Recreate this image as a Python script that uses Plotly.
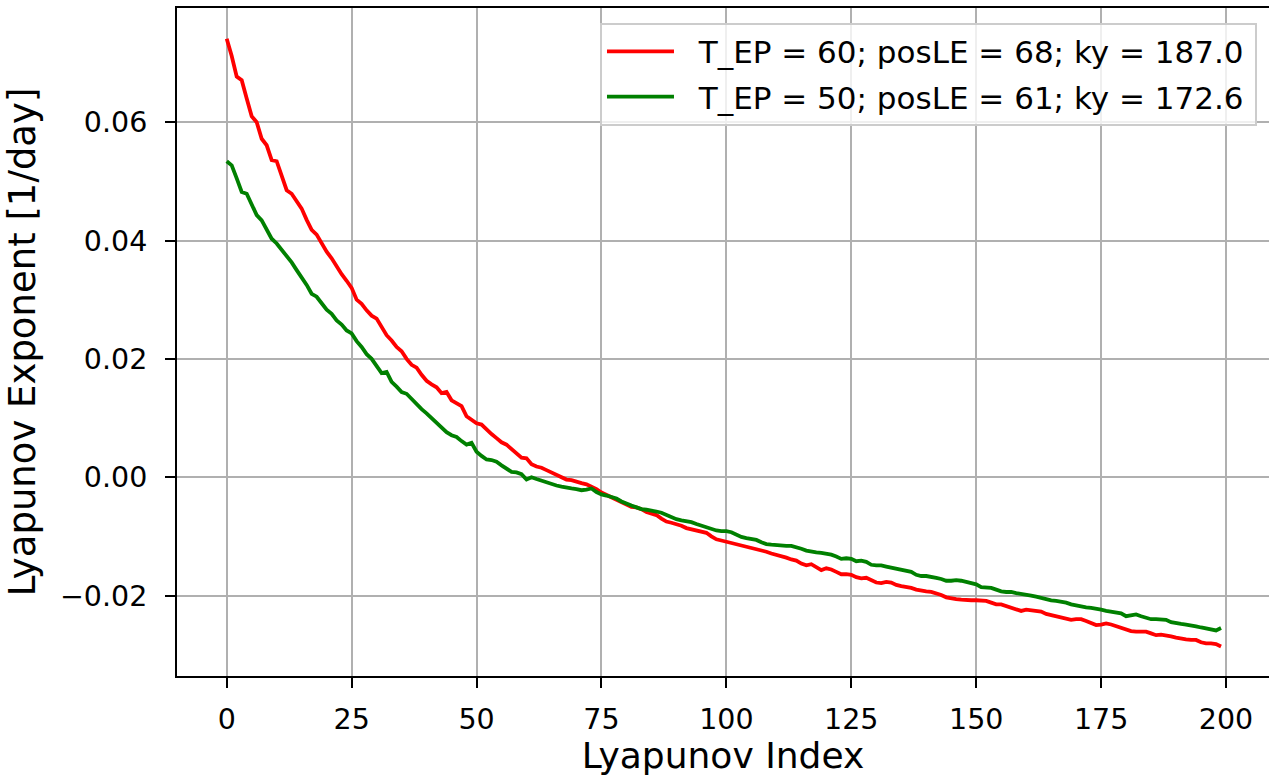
import plotly.graph_objects as go

lyap_index = list(range(200))

le_tep60 = [
    0.0741, 0.0712, 0.0677, 0.0671, 0.0640, 0.0610, 0.0600, 0.0572, 0.0561, 0.0536,
    0.0534, 0.0510, 0.0485, 0.0479, 0.0467, 0.0454, 0.0435, 0.0418, 0.0410, 0.0395,
    0.0381, 0.0370, 0.0356, 0.0343, 0.0332, 0.0320, 0.0300, 0.0293, 0.0282, 0.0273,
    0.0268, 0.0254, 0.0240, 0.0231, 0.0220, 0.0213, 0.0200, 0.0190, 0.0185, 0.0173,
    0.0163, 0.0157, 0.0152, 0.0142, 0.0144, 0.0130, 0.0125, 0.0120, 0.0103, 0.0097,
    0.0091, 0.0089, 0.0080, 0.0073, 0.0066, 0.0059, 0.0055, 0.0048, 0.0040, 0.0033,
    0.0032, 0.0022, 0.0018, 0.0016, 0.0012, 0.0008, 0.0003, -0.0001, -0.0004, -0.0005,
    -0.0008, -0.0010, -0.0012, -0.0016, -0.0020, -0.0026, -0.0030, -0.0034, -0.0038, -0.0043,
    -0.0047, -0.0050, -0.0051, -0.0054, -0.0059, -0.0061, -0.0064, -0.0070, -0.0075, -0.0077,
    -0.0079, -0.0082, -0.0086, -0.0088, -0.0090, -0.0092, -0.0094, -0.0100, -0.0105, -0.0107,
    -0.0109, -0.0111, -0.0114, -0.0116, -0.0118, -0.0120, -0.0122, -0.0124, -0.0126, -0.0129,
    -0.0131, -0.0133, -0.0136, -0.0139, -0.0141, -0.0146, -0.0149, -0.0147, -0.0152, -0.0157,
    -0.0154, -0.0156, -0.0160, -0.0164, -0.0164, -0.0165, -0.0169, -0.0171, -0.0170, -0.0174,
    -0.0178, -0.0179, -0.0177, -0.0178, -0.0182, -0.0184, -0.0185, -0.0187, -0.0190, -0.0192,
    -0.0193, -0.0194, -0.0196, -0.0199, -0.0203, -0.0205, -0.0206, -0.0207, -0.0208, -0.0208,
    -0.0208, -0.0208, -0.0209, -0.0212, -0.0215, -0.0215, -0.0218, -0.0220, -0.0223, -0.0226,
    -0.0224, -0.0225, -0.0226, -0.0227, -0.0231, -0.0233, -0.0235, -0.0236, -0.0238, -0.0241,
    -0.0240, -0.0240, -0.0243, -0.0247, -0.0250, -0.0249, -0.0247, -0.0249, -0.0252, -0.0254,
    -0.0257, -0.0260, -0.0261, -0.0261, -0.0261, -0.0264, -0.0267, -0.0266, -0.0267, -0.0269,
    -0.0271, -0.0273, -0.0274, -0.0275, -0.0275, -0.0279, -0.0281, -0.0281, -0.0282, -0.0286,
]

le_tep50 = [
    0.0534, 0.0527, 0.0505, 0.0482, 0.0479, 0.0460, 0.0443, 0.0434, 0.0418, 0.0403,
    0.0395, 0.0385, 0.0375, 0.0363, 0.0350, 0.0338, 0.0325, 0.0310, 0.0305, 0.0294,
    0.0283, 0.0276, 0.0265, 0.0258, 0.0248, 0.0243, 0.0230, 0.0220, 0.0208, 0.0200,
    0.0188, 0.0176, 0.0178, 0.0161, 0.0153, 0.0144, 0.0141, 0.0132, 0.0123, 0.0115,
    0.0108, 0.0100, 0.0093, 0.0083, 0.0076, 0.0071, 0.0068, 0.0061, 0.0055, 0.0058,
    0.0043, 0.0036, 0.0030, 0.0029, 0.0026, 0.0020, 0.0014, 0.0009, 0.0008, 0.0005,
    -0.0004, 0.0000, -0.0003, -0.0006, -0.0008, -0.0012, -0.0014, -0.0016, -0.0018, -0.0019,
    -0.0020, -0.0022, -0.0021, -0.0019, -0.0025, -0.0029, -0.0031, -0.0033, -0.0036, -0.0041,
    -0.0045, -0.0048, -0.0051, -0.0054, -0.0055, -0.0056, -0.0058, -0.0060, -0.0064, -0.0068,
    -0.0071, -0.0073, -0.0074, -0.0076, -0.0079, -0.0082, -0.0085, -0.0088, -0.0090, -0.0091,
    -0.0091, -0.0093, -0.0097, -0.0101, -0.0103, -0.0104, -0.0106, -0.0110, -0.0113, -0.0114,
    -0.0115, -0.0116, -0.0116, -0.0116, -0.0118, -0.0121, -0.0124, -0.0126, -0.0127, -0.0128,
    -0.0129, -0.0131, -0.0134, -0.0138, -0.0137, -0.0138, -0.0142, -0.0141, -0.0143, -0.0148,
    -0.0149, -0.0149, -0.0151, -0.0153, -0.0155, -0.0157, -0.0158, -0.0160, -0.0165, -0.0167,
    -0.0167, -0.0168, -0.0170, -0.0172, -0.0175, -0.0175, -0.0174, -0.0175, -0.0177, -0.0178,
    -0.0181, -0.0186, -0.0187, -0.0187, -0.0190, -0.0193, -0.0194, -0.0194, -0.0196, -0.0197,
    -0.0198, -0.0200, -0.0202, -0.0204, -0.0207, -0.0208, -0.0209, -0.0210, -0.0212, -0.0215,
    -0.0217, -0.0219, -0.0220, -0.0221, -0.0222, -0.0224, -0.0226, -0.0227, -0.0228, -0.0230,
    -0.0235, -0.0233, -0.0232, -0.0235, -0.0238, -0.0240, -0.0240, -0.0240, -0.0241, -0.0245,
    -0.0247, -0.0248, -0.0249, -0.0250, -0.0252, -0.0254, -0.0256, -0.0258, -0.0259, -0.0255,
]

series_names = [
    "T_EP = 60; posLE = 68; ky = 187.0",
    "T_EP = 50; posLE = 61; ky = 172.6",
]
series_colors = ["#ff0000", "#008000"]

x_ticks = [0, 25, 50, 75, 100, 125, 150, 175, 200]
y_ticks = [-0.02, 0.00, 0.02, 0.04, 0.06]

FONT = "DejaVu Sans"

fig = go.Figure()
for k, (vals, name, col) in enumerate(zip([le_tep60, le_tep50], series_names, series_colors)):
    fig.add_trace(go.Scatter(
        x=lyap_index, y=vals, mode="lines",
        name="  " + name + "\u2009",
        legendgroup=f"g{k}",
        line=dict(color=col, width=3.8),
    ))

fig.update_layout(
    width=1269, height=776,
    margin=dict(l=177, r=0, t=8, b=100),
    paper_bgcolor="white", plot_bgcolor="white",
    font=dict(family=FONT, color="black", size=28.5),
    showlegend=True,
    legend=dict(
        x=0.989, y=0.978, xanchor="right", yanchor="top",
        bgcolor="rgba(255,255,255,0.8)", bordercolor="#cccccc", borderwidth=2,
        font=dict(family=FONT, size=31, color="black"),
        traceorder="grouped", tracegroupgap=2, itemwidth=67,
    ),
    xaxis=dict(
        range=[-9.95, 208.6], tickvals=x_ticks, ticktext=[str(v) for v in x_ticks],
        showgrid=True, gridcolor="#b0b0b0", gridwidth=2,
        showline=True, linecolor="black", linewidth=2, mirror=True,
        ticks="outside", ticklen=10, tickwidth=2, tickcolor="black",
        ticklabelstandoff=7,
        zeroline=False,
        title=dict(text="Lyapunov Index", font=dict(size=36, family=FONT), standoff=11),
    ),
    yaxis=dict(
        range=[-0.0336, 0.0793], tickvals=y_ticks, tickformat=".2f",
        showgrid=True, gridcolor="#b0b0b0", gridwidth=2,
        showline=True, linecolor="black", linewidth=2, mirror=False,
        ticks="outside", ticklen=10, tickwidth=2, tickcolor="black",
        ticklabelstandoff=12,
        zeroline=False,
        title=dict(text="Lyapunov Exponent [1/day]", font=dict(size=37, family=FONT), standoff=13),
    ),
)

fig.write_html("out.html")
